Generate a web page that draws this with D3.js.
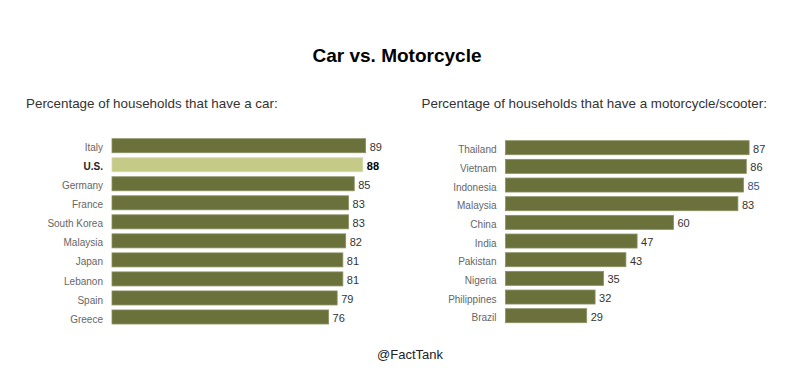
<!DOCTYPE html>
<html><head><meta charset="utf-8">
<script src="https://cdn.jsdelivr.net/npm/d3@7"></script>
<style>body{margin:0;background:#fff}svg{display:block}</style>
</head><body>
<script>
const carCountries = ["Italy","U.S.","Germany","France","South Korea","Malaysia","Japan","Lebanon","Spain","Greece"];
const carValues = [89,88,85,83,83,82,81,81,79,76];
const motoCountries = ["Thailand","Vietnam","Indonesia","Malaysia","China","India","Pakistan","Nigeria","Philippines","Brazil"];
const motoValues = [87,86,85,83,60,47,43,35,32,29];
const title = "Car vs. Motorcycle";
const carSubtitle = "Percentage of households that have a car:";
const motoSubtitle = "Percentage of households that have a motorcycle/scooter:";
const credit = "@FactTank";

const W = 808, H = 386;
const svg = d3.select("body").append("svg").attr("width", W).attr("height", H);
const font = "'Liberation Sans', Arial, sans-serif";

svg.append("text").attr("x", 397).attr("y", 62).attr("text-anchor","middle")
  .attr("font-family", font).attr("font-weight","bold").attr("font-size", 19).attr("fill","#000").text(title);
svg.append("text").attr("x", 410).attr("y", 359).attr("text-anchor","middle")
  .attr("font-family", font).attr("font-size", 13).attr("fill","#222").text(credit);

function panel(cfg) {
  const g = svg.append("g");
  g.append("text").attr("x", cfg.subX).attr("y", 108).attr("font-family", font)
    .attr("font-size", 13.4).attr("fill","#333").text(cfg.subtitle);
  const y = d3.scaleBand().domain(cfg.cats).range([cfg.y0, cfg.y1]).paddingInner(cfg.pad).paddingOuter(0);
  const x = d3.scaleLinear().domain([0,100]).range([cfg.x0, cfg.x0 + cfg.perUnit*100]);
  const data = cfg.cats.map((c,i)=>({c, v: cfg.vals[i]}));
  g.selectAll("rect").data(data).join("rect")
    .attr("x", x(0)).attr("y", d=>y(d.c)).attr("width", d=>x(d.v)-x(0)).attr("height", y.bandwidth())
    .attr("fill", d=>d.c===cfg.highlight ? "#c5ca86" : "#6b713a")
    .attr("stroke", d=>d.c===cfg.highlight ? "#d6dab0" : "#8a8f62").attr("stroke-width", 0.8);
  g.selectAll("text.lab").data(data).join("text").attr("class","lab")
    .attr("x", x(0)-9).attr("y", d=>y(d.c)+y.bandwidth()/2 + 2).attr("dy","0.36em")
    .attr("text-anchor","end").attr("font-family", font).attr("font-size", 10)
    .attr("font-weight", d=>d.c===cfg.highlight ? "bold" : "normal")
    .attr("fill", d=>d.c===cfg.highlight ? "#222" : "#666").text(d=>d.c);
  g.selectAll("text.val").data(data).join("text").attr("class","val")
    .attr("x", d=>x(d.v)+4).attr("y", d=>y(d.c)+y.bandwidth()/2 + 1).attr("dy","0.36em")
    .attr("font-family", font).attr("font-size", 11)
    .attr("font-weight", d=>d.c===cfg.highlight ? "bold" : "normal")
    .attr("fill", d=>d.c===cfg.blueVal ? "#2a5a7c" : (d.c===cfg.highlight ? "#000" : "#333")).text(d=>d.v);
}

panel({cats: carCountries, vals: carValues, subtitle: carSubtitle, subX: 26, x0: 112, perUnit: 2.85,
  y0: 138.7, y1: 324, pad: 5/19, highlight: "U.S."});
panel({cats: motoCountries, vals: motoValues, subtitle: motoSubtitle, subX: 421.5, x0: 505.5, perUnit: 2.8,
  y0: 140.7, y1: 322.7, pad: 4.67/18.67, highlight: null, blueVal: "Indonesia"});
</script>
</body></html>
